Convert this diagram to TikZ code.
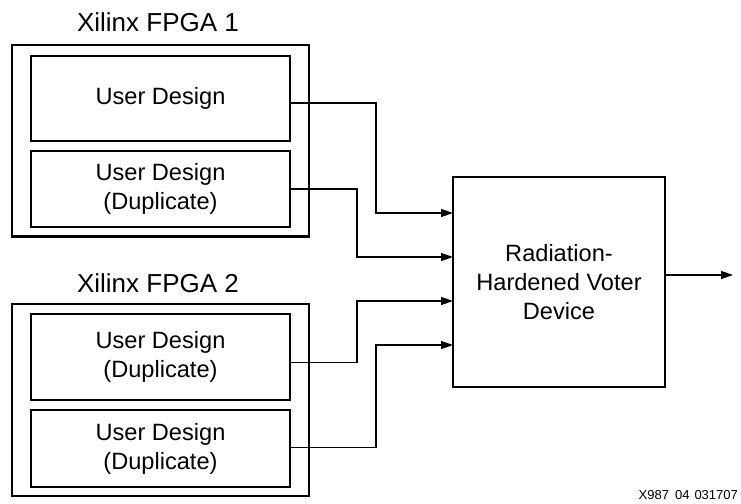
\documentclass[tikz,border=0pt]{standalone}
\usepackage{fontspec}
\setmainfont{Liberation Sans}
\usetikzlibrary{arrows.meta}
\begin{document}
\begin{tikzpicture}[x=1pt,y=-1pt,
  box/.style={draw,line width=2.8pt,inner sep=0pt,outer sep=0pt,align=center,
    font=\fontsize{23.6}{29}\selectfont},
  frame/.style={draw,line width=2.8pt,inner sep=0pt,outer sep=0pt},
  title/.style={anchor=base,font=\fontsize{26}{30}\selectfont,inner sep=0pt},
  arr/.style={line width=1.3pt,-{Triangle[length=12pt,width=8pt]}}]
\useasboundingbox (0,0) rectangle (741,503);
% FPGA 1
\node[title] (t1) at (158,31.5) {Xilinx FPGA 1};
\node[frame,minimum width=297pt,minimum height=191.5pt] (f1) at (160.5,140.75) {};
\node[box,minimum width=259pt,minimum height=85pt] (b1) at (160.5,98.5) {User Design};
\node[box,minimum width=259pt,minimum height=76pt] (b2) at (160.5,189) {User Design\\(Duplicate)};
% FPGA 2
\node[title] (t2) at (158,292) {Xilinx FPGA 2};
\node[frame,minimum width=297pt,minimum height=192pt] (f2) at (160.5,400) {};
\node[box,minimum width=259pt,minimum height=86pt] (b3) at (160.5,357) {User Design\\(Duplicate)};
\node[box,minimum width=259pt,minimum height=77pt] (b4) at (160.5,448.5) {User Design\\(Duplicate)};
% Voter
\node[box,minimum width=212pt,minimum height=210pt] (v) at (559,282) {Radiation-\\Hardened Voter\\Device};
\coordinate (out) at (733,275);
% connectors
\draw[arr] ([yshift=-4.5pt]b1.east) -- ++(86,0) |- ([yshift=69pt]v.west);
\draw[arr] (b2.east) -- ++(67,0) |- ([yshift=25pt]v.west);
\draw[arr] ([yshift=-5.5pt]b3.east) -- ++(67,0) |- ([yshift=-19pt]v.west);
\draw[arr] ([yshift=1pt]b4.east) -- ++(86,0) |- ([yshift=-63pt]v.west);
\draw[arr] ([yshift=7pt]v.east) -- (out);
% figure id
\node[anchor=base west,inner sep=0pt,font=\fontsize{13}{15}\selectfont] (id) at (638.5,499) {X987\hspace{6pt}04\hspace{5pt}031707};
\end{tikzpicture}
\end{document}
